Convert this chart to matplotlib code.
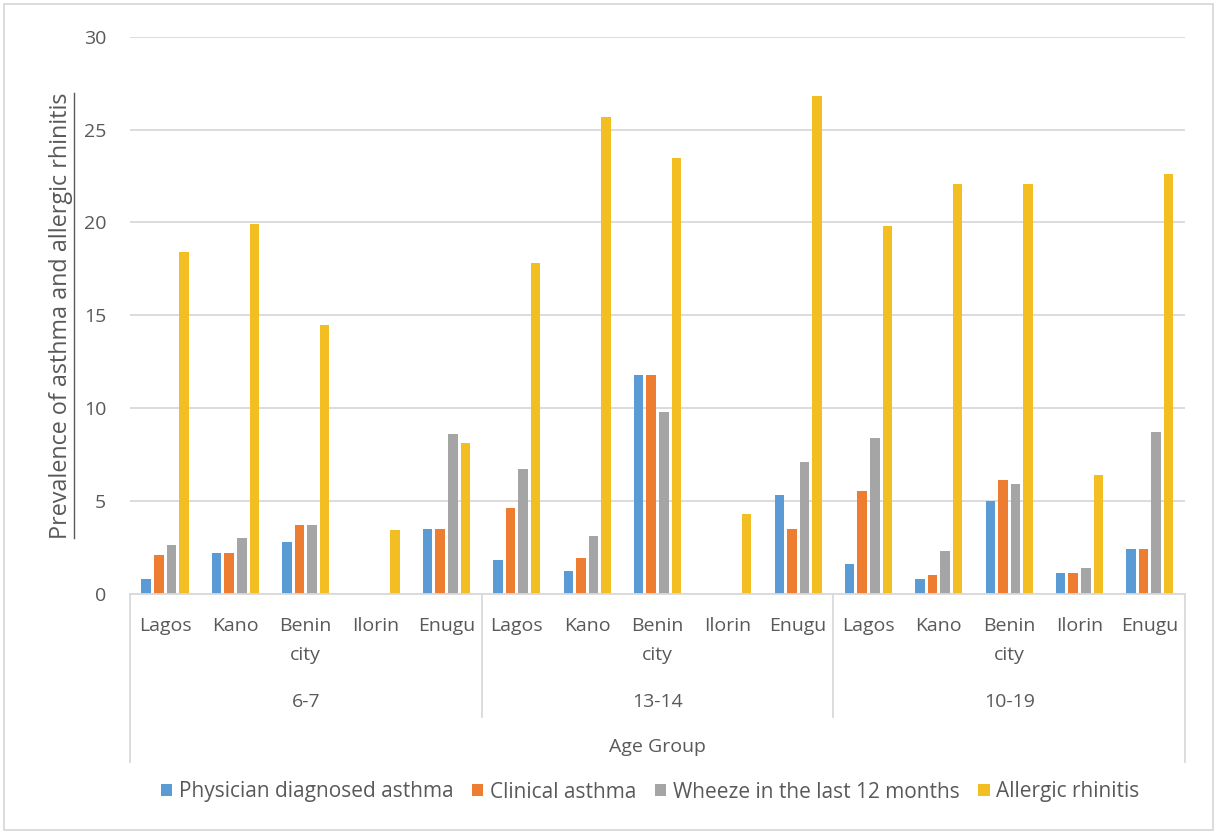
import matplotlib
matplotlib.use("Agg")
import matplotlib.pyplot as plt
import numpy as np
from matplotlib.lines import Line2D
from matplotlib.patches import Rectangle

# Data
cities = ["Lagos", "Kano", "Benin\ncity", "Ilorin", "Enugu"]
age_groups = ["6-7", "13-14", "10-19"]

physician = [0.8, 2.2, 2.8, 0.0, 3.5,
             1.8, 1.2, 11.8, 0.0, 5.3,
             1.6, 0.8, 5.0, 1.1, 2.4]
clinical = [2.1, 2.2, 3.7, 0.0, 3.5,
            4.6, 1.9, 11.8, 0.0, 3.5,
            5.5, 1.0, 6.1, 1.1, 2.4]
wheeze = [2.6, 3.0, 3.7, 0.0, 8.6,
          6.7, 3.1, 9.8, 0.0, 7.1,
          8.4, 2.3, 5.9, 1.4, 8.7]
rhinitis = [18.4, 19.9, 14.5, 3.4, 8.1,
            17.8, 25.7, 23.5, 4.3, 26.8,
            19.8, 22.1, 22.1, 6.4, 22.6]

series = [physician, clinical, wheeze, rhinitis]
labels = ["Physician diagnosed asthma", "Clinical asthma",
          "Wheeze in the last 12 months", "Allergic rhinitis"]
colors = ["#5B9BD5", "#ED7D31", "#A5A5A5", "#F2BE22"]
text_color = "#595959"
grid_color = "#D9D9D9"

plt.rcParams['font.family'] = ['Open Sans', 'DejaVu Sans']
plt.rcParams['font.size'] = 14

fig = plt.figure(figsize=(12.18, 8.33), dpi=100)
ax = fig.add_axes([0.1067, 0.2875, 0.8662, 0.6681])

n = len(physician)
x = np.arange(n)
step = 0.179
width = 0.135
for i, (vals, lab, col) in enumerate(zip(series, labels, colors)):
    ax.bar(x + (i - 1.5) * step, vals, width=width, color=col, label=lab)

ax.set_xlim(-0.5, n - 0.5)
ax.set_ylim(0, 30)
ax.set_yticks(range(0, 31, 5))
ax.yaxis.grid(True, color=grid_color, linewidth=1.3)
ax.set_axisbelow(True)
for side in ["left", "right", "top"]:
    ax.spines[side].set_visible(False)
ax.spines["bottom"].set_color(grid_color)
ax.spines["bottom"].set_linewidth(1.3)
ax.tick_params(axis="y", length=0, pad=17, colors=text_color, labelsize=14)
ax.tick_params(axis="x", length=0, pad=17, colors=text_color, labelsize=14)
ax.set_xticks(x)
ax.set_xticklabels(cities * len(age_groups), va="top", linespacing=1.75)

# category axis separators
trans = ax.get_xaxis_transform()
for xs, ybot in [(-0.5, -0.303), (4.5, -0.222), (9.5, -0.222), (14.5, -0.303)]:
    ax.add_line(Line2D([xs, xs], [0, ybot], transform=trans, color=grid_color,
                       linewidth=1.3, clip_on=False))

# age group labels
for g, name in enumerate(age_groups):
    ax.text(g * 5 + 2, -0.195, name, transform=trans, ha="center", va="center",
            color=text_color, fontsize=14)
ax.text(7, -0.276, "Age Group", transform=trans, ha="center", va="center",
        color=text_color, fontsize=14)

# y label with underline
fig.text(61 / 1218, 1 - 316 / 833, "Prevalence of asthma and allergic rhinitis",
         rotation=90, ha="center", va="center", color=text_color, fontsize=16.8)
fig.add_artist(Line2D([74 / 1218, 74 / 1218], [1 - 93 / 833, 1 - 538 / 833],
                      color=text_color, linewidth=1.0))

fig.legend(loc="center", bbox_to_anchor=(650 / 1218, 1 - 792 / 833), ncol=4,
           frameon=False, handlelength=0.55, handleheight=0.55,
           handletextpad=0.3, columnspacing=0.9, labelcolor=text_color,
           fontsize=15)

# outer chart border
fig.add_artist(Rectangle((4 / 1218, 3 / 833), 1 - 9 / 1218, 1 - 7 / 833,
                         transform=fig.transFigure, fill=False,
                         edgecolor=grid_color, linewidth=1.3))

fig.savefig("out.png", dpi=100)
